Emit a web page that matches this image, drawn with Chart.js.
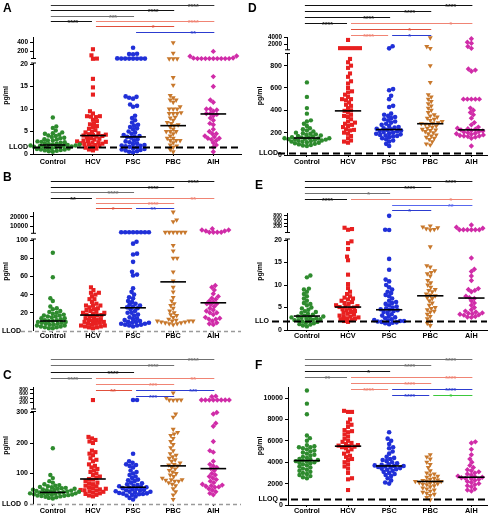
<!DOCTYPE html>
<html>
<head>
<meta charset="utf-8">
<script src="https://cdn.jsdelivr.net/npm/chart.js@4/dist/chart.umd.min.js"></script>
<style>
    html, body { margin: 0; padding: 0; background: #fff; }
    #wrap { position: relative; width: 491px; height: 515px; overflow: hidden; }
    #wrap canvas { position: absolute; }
</style>
</head>
<body>
<div id="wrap"></div>
<script>
var CATEGORIES = ["Control", "HCV", "PSC", "PBC", "AIH"];

// ---- panel A ----
var A_CONTROL = [8.1, 6.1, 5.8, 5.2, 4.8, 4.6, 4.5, 4.3, 4.1, 4.0, 3.8, 3.6, 3.5, 3.3, 3.2, 3.0, 3.0, 2.8, 2.7, 2.6, 2.5, 2.4, 2.3, 2.2, 2.1, 2.1, 2.0, 2.0, 1.9, 1.9, 1.8, 1.8, 1.7, 1.7, 1.6, 1.6, 1.5, 1.4, 1.3, 1.2, 1.1, 1.0, 1.0, 0.9, 0.8, 0.7, 0.6, 0.5];
var A_HCV = [245, 105, 30, 25, 16.7, 14.8, 13.2, 9.5, 9.0, 8.4, 8.4, 8.3, 8.2, 7.6, 7.3, 6.8, 6.6, 6.2, 6.0, 5.6, 5.3, 5.0, 4.8, 4.6, 4.4, 4.3, 4.2, 4.1, 4.0, 3.9, 3.7, 3.5, 3.4, 3.2, 3.0, 2.9, 2.8, 2.7, 2.6, 2.5, 2.4, 2.3, 2.2, 2.1, 2.0, 1.8, 1.6, 1.4, 1.2, 1.0, 0.8];
var A_PSC = [280, 140, 135, 130, 35, 30, 30, 30, 30, 30, 30, 30, 12.8, 12.7, 12.5, 12.3, 11.0, 10.7, 10.5, 8.5, 8.0, 7.5, 7.0, 6.5, 6.3, 6.0, 5.7, 5.5, 5.0, 4.8, 4.5, 4.2, 4.0, 3.9, 3.8, 3.6, 3.3, 3.0, 2.8, 2.6, 2.4, 2.2, 2.0, 1.9, 1.8, 1.7, 1.6, 1.5, 1.3, 1.1, 1.0, 0.9, 0.8, 0.6, 0.5, 0.4];
var A_PBC = [395, 155, 25, 25, 25, 17.0, 15.3, 13.0, 12.5, 12.0, 12.0, 11.5, 10.5, 10.0, 10.0, 10.0, 9.2, 9.0, 9.0, 9.0, 8.2, 8.0, 7.5, 7.0, 6.8, 6.5, 6.3, 6.0, 5.5, 5.0, 5.0, 5.0, 4.5, 4.0, 3.5, 3.5, 3.0, 3.0, 3.0, 2.5, 2.0, 1.8, 1.5, 1.0, 0.5];
var A_AIH = [195, 90, 85, 45, 30, 30, 30, 30, 30, 30, 30, 30, 30, 40, 17.2, 15.0, 12.0, 11.5, 10.0, 10.0, 9.8, 9.5, 9.0, 9.0, 8.8, 8.5, 8.0, 7.5, 6.8, 6.5, 5.5, 5.0, 4.5, 4.5, 4.0, 3.8, 3.5, 3.5, 3.2, 3.0, 2.5, 2.0, 1.5, 0.5];
var A_MEDIANS = [2.0, 4.1, 3.8, 6.3, 8.9];
var A_LOW_TICKS = [0, 5, 10, 15, 20];
var A_HIGH_TICKS = [200, 400];
var A_LLOD = 1.6;
var A_SIG = [[0, 4, "****", "dk", 0], [0, 3, "****", "k", 1], [0, 2, "***", "g", 2], [0, 1, "****", "k", 3], [1, 4, "****", "salmon", 3], [1, 3, "*", "red", 4], [2, 4, "**", "blue", 5]];

// ---- panel B ----
var B_CONTROL = [86, 59, 36, 33, 27, 25, 24, 22, 21, 20, 19, 18, 17, 17, 16, 16, 15, 14, 14, 13, 12, 12, 11, 11, 10, 10, 9, 9, 8, 8, 7, 7, 6, 6, 5, 5, 4, 4, 3, 3];
var B_HCV = [48, 45, 42, 42, 40, 38, 35, 35, 32, 30, 28, 28, 28, 26, 25, 24, 23, 22, 21, 20, 20, 19, 18, 17.5, 17, 16, 15, 14, 13, 12, 12, 11, 10, 10, 9, 8, 8, 7, 6, 6, 5, 5, 4, 4, 3];
var B_PSC = [3000, 3000, 3000, 3000, 3000, 3000, 3000, 3000, 98, 96, 85, 84, 76, 65, 62, 61, 47, 43, 40, 37, 36, 33, 32, 30, 29, 28, 27, 26, 25, 24, 22, 20, 20, 18, 17, 15, 14, 13, 12, 11, 10, 10, 9, 9, 8, 8, 7, 7, 6, 6, 5];
var B_PBC = [25500, 16700, 14800, 3000, 3000, 3000, 3000, 3000, 3000, 94, 88, 80, 80, 65, 55, 48, 43, 37, 33, 30, 28, 25, 22, 20, 18, 17, 15, 13, 12, 11, 11, 11, 11, 10, 10, 9, 9, 8, 8, 7];
var B_AIH = [7000, 5500, 4500, 3000, 3000, 3000, 3000, 4500, 5500, 50, 48, 45, 41, 38, 36, 35, 33, 32, 30, 30, 29, 27, 25, 23, 22, 20, 20, 18, 15, 14, 13, 13, 11, 9, 8, 7];
var B_MEDIANS = [11, 17.5, 25.5, 54, 31];
var B_LOW_TICKS = [20, 40, 60, 80, 100];
var B_HIGH_TICKS = [10000, 20000];
var B_LLOD = 0;
var B_SIG = [[0, 4, "****", "k", 0], [0, 3, "****", "k", 1], [0, 2, "****", "g", 2], [0, 1, "**", "k", 3], [1, 4, "**", "salmon", 3], [1, 3, "****", "salmon", 4], [1, 2, "*", "red", 5], [2, 3, "**", "blue", 5]];

// ---- panel C ----
var C_CONTROL = [183, 95, 85, 75, 70, 65, 62, 60, 58, 56, 55, 53, 52, 50, 50, 48, 47, 46, 45, 44, 43, 42, 41, 40, 40, 39, 38, 37, 36, 35, 35, 34, 33, 32, 31, 30, 29, 28, 27, 26, 25, 24, 22, 20, 18];
var C_HCV = [320, 220, 215, 210, 205, 200, 175, 170, 165, 160, 150, 145, 140, 130, 125, 120, 115, 110, 105, 100, 95, 90, 85, 82, 80, 75, 70, 68, 65, 60, 58, 55, 52, 50, 48, 46, 45, 44, 42, 40, 38, 35, 33, 30, 28, 25];
var C_PSC = [320, 320, 165, 140, 135, 130, 128, 125, 120, 110, 105, 100, 95, 90, 85, 80, 78, 75, 70, 68, 65, 62, 60, 58, 56, 55, 54, 52, 50, 48, 46, 45, 44, 42, 40, 40, 38, 36, 35, 34, 33, 32, 30, 28, 25, 20, 15];
var C_PBC = [650, 420, 330, 320, 320, 315, 295, 285, 245, 235, 230, 225, 215, 205, 195, 185, 175, 165, 160, 155, 150, 145, 140, 135, 130, 128, 125, 120, 115, 110, 105, 100, 95, 90, 85, 80, 80, 78, 75, 75, 70, 65, 60, 50, 40, 30, 15];
var C_AIH = [500, 480, 320, 320, 320, 320, 320, 320, 320, 320, 300, 295, 265, 255, 205, 175, 170, 140, 130, 125, 120, 116, 110, 100, 95, 90, 85, 80, 75, 70, 65, 62, 60, 58, 56, 55, 50, 45, 40, 35, 30];
var C_MEDIANS = [38, 82, 55, 125, 116];
var C_LOW_TICKS = [0, 100, 200, 300];
var C_HIGH_TICKS = [200, 400, 600, 800];
var C_LLOD = 0;
var C_SIG = [[0, 4, "****", "g", 0], [0, 3, "****", "g", 1], [0, 2, "****", "k", 2], [0, 1, "****", "g", 3], [1, 4, "**", "salmon", 3], [1, 3, "***", "salmon", 4], [1, 2, "**", "red", 5], [2, 4, "***", "blue", 5], [2, 3, "***", "blue", 6]];

// ---- panel D ----
var D_CONTROL = [650, 520, 420, 370, 310, 300, 280, 260, 240, 230, 220, 210, 200, 195, 190, 185, 180, 175, 170, 165, 160, 158, 155, 150, 150, 148, 145, 142, 140, 138, 135, 130, 128, 125, 120, 118, 115, 110, 105, 100, 95, 90, 85, 80];
var D_HCV = [3250, 1000, 1000, 1000, 1000, 1000, 1000, 860, 830, 800, 780, 730, 700, 660, 640, 600, 570, 560, 540, 520, 500, 500, 490, 470, 450, 440, 420, 400, 395, 380, 360, 350, 340, 320, 300, 290, 280, 270, 260, 250, 230, 225, 220, 200, 190, 170, 150, 130, 120, 110];
var D_PSC = [1530, 950, 590, 580, 530, 500, 440, 430, 370, 360, 350, 340, 330, 320, 310, 300, 290, 280, 270, 260, 250, 245, 240, 235, 230, 225, 220, 215, 210, 205, 200, 195, 190, 185, 180, 175, 170, 165, 160, 150, 140, 130, 120, 100, 80];
var D_PBC = [3835, 1450, 950, 800, 650, 540, 520, 500, 480, 460, 440, 420, 400, 380, 360, 350, 340, 330, 320, 310, 300, 290, 285, 280, 275, 270, 260, 250, 240, 230, 225, 220, 210, 200, 190, 180, 170, 160, 150, 140, 120, 100, 90];
var D_AIH = [3560, 2630, 2360, 1450, 950, 770, 760, 750, 500, 500, 500, 500, 500, 420, 400, 380, 360, 330, 290, 270, 250, 240, 235, 230, 225, 220, 215, 210, 205, 200, 195, 190, 185, 180, 175, 170, 170, 165, 160, 150, 80];
var D_MEDIANS = [152, 395, 228, 280, 225];
var D_LOW_TICKS = [0, 200, 400, 600, 800];
var D_HIGH_TICKS = [2000, 4000];
var D_LLOD = 22;
var D_SIG = [[0, 4, "****", "k", 0], [0, 3, "****", "k", 1], [0, 2, "****", "k", 2], [0, 1, "****", "k", 3], [1, 4, "*", "salmon", 3], [1, 3, "*", "red", 4], [1, 2, "****", "salmon", 5], [2, 3, "*", "blue", 5]];

// ---- panel E ----
var E_CONTROL = [12.1, 11.7, 9.2, 9.0, 8.5, 8.0, 7.5, 7.0, 6.5, 6.0, 5.8, 5.5, 5.0, 4.8, 4.5, 4.2, 4.0, 3.8, 3.6, 3.4, 3.2, 3.0, 3.0, 2.9, 2.8, 2.7, 2.6, 2.5, 2.4, 2.3, 2.2, 2.1, 2.0, 1.9, 1.8, 1.6, 1.5, 1.3, 1.2, 1.0, 0.8];
var E_HCV = [150, 80, 40, 19.7, 19.3, 18.0, 16.3, 15.5, 12.3, 10.2, 9.3, 8.5, 8.0, 7.5, 7.2, 7.0, 6.8, 6.5, 6.2, 6.0, 5.8, 5.5, 5.3, 5.2, 5.1, 5.0, 4.8, 4.6, 4.4, 4.2, 4.0, 3.8, 3.6, 3.4, 3.2, 3.0, 2.9, 2.8, 2.6, 2.5, 2.4, 2.2, 2.0, 1.8];
var E_PSC = [800, 45, 30, 15.8, 13.4, 11.2, 10.8, 10.0, 9.5, 9.0, 8.5, 8.2, 7.8, 7.5, 7.0, 6.5, 6.2, 6.0, 5.8, 5.5, 5.2, 5.0, 4.8, 4.6, 4.5, 4.4, 4.2, 4.0, 3.8, 3.5, 3.2, 3.0, 2.8, 2.6, 2.4, 2.2, 2.1, 2.0, 2.0, 1.9, 1.8, 1.7, 1.6, 1.5, 1.3];
var E_PBC = [250, 200, 150, 100, 60, 40, 18.5, 14.3, 14.0, 13.2, 12.8, 12.5, 12.0, 11.0, 10.5, 10.0, 9.5, 9.0, 8.8, 8.5, 8.0, 7.8, 7.6, 7.2, 7.0, 6.5, 6.0, 5.5, 5.0, 4.8, 4.5, 4.2, 4.0, 3.5, 3.0, 2.5, 2.0, 1.5, 1.0];
var E_AIH = [300, 180, 120, 40, 40, 40, 40, 40, 40, 16.0, 13.5, 13.0, 12.0, 11.0, 9.2, 9.0, 8.8, 8.5, 7.5, 7.2, 7.0, 6.5, 6.0, 5.5, 5.0, 4.5, 4.2, 4.0, 3.8, 3.7, 3.6, 3.5, 3.4, 3.3, 3.0, 2.9, 2.8];
var E_MEDIANS = [3.1, 5.1, 4.5, 7.6, 7.1];
var E_LOW_TICKS = [0, 5, 10, 15, 20];
var E_HIGH_TICKS = [200, 400, 600, 800];
var E_LLOD = 2.0;
var E_SIG = [[0, 4, "****", "k", 0], [0, 3, "****", "k", 1], [0, 2, "*", "g", 2], [0, 1, "****", "k", 3], [1, 4, "*", "salmon", 3], [2, 4, "**", "lblue", 4], [2, 3, "*", "blue", 5]];

// ---- panel F ----
var F_CONTROL = [10700, 9470, 8480, 6500, 6250, 6000, 5600, 5500, 5400, 5400, 5300, 5200, 5100, 5000, 4900, 4800, 4700, 4600, 4500, 4400, 4300, 4250, 4200, 4150, 4100, 4050, 4000, 3950, 3900, 3800, 3700, 3600, 3500, 3400, 3300, 3200, 3100, 3000, 2900, 2800, 2700, 2600, 2500];
var F_HCV = [8800, 8700, 8700, 8000, 7700, 7500, 7300, 7000, 6900, 6800, 6600, 6400, 6200, 6000, 5900, 5800, 5700, 5600, 5550, 5500, 5450, 5400, 5300, 5200, 5000, 4800, 4600, 4500, 4300, 4200, 4000, 3800, 3600, 3400, 3000, 2500, 2400, 1400];
var F_PSC = [6800, 6200, 6000, 5700, 5400, 5300, 5000, 4800, 4500, 4400, 4300, 4200, 4100, 4000, 3900, 3800, 3750, 3700, 3650, 3650, 3600, 3550, 3500, 3450, 3400, 3350, 3300, 3200, 3100, 3000, 2900, 2800, 2700, 2500, 2300, 2100, 2000];
var F_PBC = [4700, 4500, 4300, 4000, 3800, 3500, 3200, 3000, 2900, 2800, 2700, 2600, 2500, 2400, 2350, 2300, 2250, 2200, 2200, 2150, 2100, 2050, 2000, 1950, 1900, 1800, 1700, 1600, 1500, 1400, 1300, 1200, 1100, 1000, 900, 700, 500];
var F_AIH = [5900, 5800, 5200, 4700, 4300, 4000, 3700, 3500, 3300, 3200, 3100, 3000, 2900, 2800, 2700, 2650, 2600, 2550, 2500, 2450, 2400, 2300, 2200, 2100, 2000, 1900, 1800, 1700, 1500, 1400, 1300];
var F_MEDIANS = [4150, 5500, 3650, 2200, 2600];
var F_LOW_TICKS = [0, 2000, 4000, 6000, 8000, 10000];
var F_HIGH_TICKS = [];
var F_LLOQ = 520;
var F_SIG = [[0, 4, "****", "g", 0], [0, 3, "****", "g", 1], [0, 2, "*", "k", 2], [0, 1, "**", "g", 3], [1, 4, "****", "salmon", 3], [1, 3, "****", "salmon", 4], [1, 2, "****", "salmon", 5], [2, 4, "****", "blue", 5], [2, 3, "****", "blue", 6], [3, 4, "*", "green", 6]];

// ---- styles ----
var FONT = '"Liberation Sans", Arial, sans-serif';
var GROUP_COLORS = ["#2e8b2e", "#e82020", "#2030d8", "#c8782c", "#d02ca8"];
var GROUP_MARKS = [
    { style: "circle", r: 2.2, rot: 0 },
    { style: "rect", r: 2.9, rot: 0 },
    { style: "circle", r: 2.3, rot: 0 },
    { style: "triangle", r: 2.9, rot: 180 },
    { style: "rectRot", r: 2.7, rot: 0 }
];
var SIG_COLORS = { k: "#111111", dk: "#333333", g: "#707070", salmon: "#f08474", red: "#e0503c", blue: "#2c3cd0", lblue: "#5868ee", green: "#3cc83c" };
var SWARM_GAP = 3.7;

var LEFT_X = { axisX: 33, xEnd: 243, xMin: -0.494, xMax: 4.69 };
var RIGHT_X = { axisX: 287, xEnd: 488, xMin: -0.484, xMax: 4.38 };

var PANELS = [
    { id: "A", left: 0, top: 0, w: 245, h: 170, x: LEFT_X, plotTop: 37, zeroY: 154,
      groups: [A_CONTROL, A_HCV, A_PSC, A_PBC, A_AIH], medians: A_MEDIANS, lowTicks: A_LOW_TICKS, highTicks: A_HIGH_TICKS,
      lowPx: 4.5, lowMax: 20, highA: 94.1, highB: 0.0435, highStart: 95.5, highFont: 6.5,
      llod: A_LLOD, llodText: "LLOD", llodGray: false, llodLabelOff: -5, llodLineOff: 0,
      sig: A_SIG, barTop: 4.7, barGap: 5.4, titlePad: 2, xPad: 1.4, letterX: 3, letterY: 12 },
    { id: "B", left: 0, top: 170, w: 245, h: 170, x: LEFT_X, plotTop: 212, zeroY: 331,
      groups: [B_CONTROL, B_HCV, B_PSC, B_PBC, B_AIH], medians: B_MEDIANS, lowTicks: B_LOW_TICKS, highTicks: B_HIGH_TICKS,
      lowPx: 0.91, lowMax: 100, highA: 96, highB: 0.0009, highStart: 97.7, highFont: 6.5,
      llod: B_LLOD, llodText: "LLOD", llodGray: true, llodLabelOff: -12, llodLineOff: -12,
      sig: B_SIG, barTop: 11.3, barGap: 5.4, titlePad: 2, xPad: -1.6, letterX: 3, letterY: 11 },
    { id: "C", left: 0, top: 340, w: 245, h: 175, x: LEFT_X, plotTop: 387, zeroY: 504,
      groups: [C_CONTROL, C_HCV, C_PSC, C_PBC, C_AIH], medians: C_MEDIANS, lowTicks: C_LOW_TICKS, highTicks: C_HIGH_TICKS,
      lowPx: 0.305, lowMax: 300, highA: 97, highB: 0.0217, highStart: 95, highFont: 5.2,
      llod: C_LLOD, llodText: "LLOD", llodGray: true, llodLabelOff: -12, llodLineOff: -3,
      sig: C_SIG, barTop: 19.3, barGap: 6.1, titlePad: 2, xPad: 0.4, letterX: 3, letterY: 39 },
    { id: "D", left: 245, top: 0, w: 246, h: 170, x: RIGHT_X, plotTop: 37, zeroY: 155,
      groups: [D_CONTROL, D_HCV, D_PSC, D_PBC, D_AIH], medians: D_MEDIANS, lowTicks: D_LOW_TICKS, highTicks: D_HIGH_TICKS,
      lowPx: 0.1117, lowMax: 900, highA: 103.2, highB: 0.00365, highStart: 105.2, highFont: 6.3,
      llod: D_LLOD, llodText: "LLOD", llodGray: false, llodLabelOff: -9, llodLineOff: -9,
      sig: D_SIG, barTop: 4.7, barGap: 6.1, titlePad: 11, xPad: 1.1, letterX: 3, letterY: 11.5 },
    { id: "E", left: 245, top: 170, w: 246, h: 170, x: RIGHT_X, plotTop: 213, zeroY: 330,
      groups: [E_CONTROL, E_HCV, E_PSC, E_PBC, E_AIH], medians: E_MEDIANS, lowTicks: E_LOW_TICKS, highTicks: E_HIGH_TICKS,
      lowPx: 4.5, lowMax: 20, highA: 99.5, highB: 0.0183, highStart: 97.5, highFont: 5.2,
      llod: E_LLOD, llodText: "LLO", llodGray: false, llodLabelOff: -18, llodLineOff: -15,
      sig: E_SIG, barTop: 11.3, barGap: 5.8, titlePad: 11, xPad: -0.6, letterX: 10, letterY: 18.5 },
    { id: "F", left: 245, top: 340, w: 246, h: 175, x: { axisX: 288, xEnd: 488, xMin: -0.46, xMax: 4.38 }, plotTop: 387, zeroY: 505,
      groups: [F_CONTROL, F_HCV, F_PSC, F_PBC, F_AIH], medians: F_MEDIANS, lowTicks: F_LOW_TICKS, highTicks: F_HIGH_TICKS,
      lowPx: 0.0107, lowMax: null, highA: 0, highB: 0, highStart: 0, highFont: 6,
      llod: F_LLOQ, llodText: "LLOQ", llodGray: false, llodLabelOff: -10, llodLineOff: -8,
      sig: F_SIG, barTop: 19.3, barGap: 6, titlePad: 11, xPad: -0.6, letterX: 10, letterY: 28.5 }
];

var PANEL_BY_ID = {};

// value -> height above the x axis, with a break between the two segments
function toH(p, v) {
    if (p.lowMax === null || v <= p.lowMax) return v * p.lowPx;
    return p.highA + p.highB * v;
}

class BrokenScale extends Chart.LinearScale {
    buildTicks() {
        var p = PANEL_BY_ID[this.chart.canvas.id];
        var low = p.lowTicks.map(function (v) { return { value: v }; });
        var high = p.highTicks.map(function (v) { return { value: v, upper: true }; });
        return low.concat(high);
    }
    getPixelForValue(v) {
        var p = PANEL_BY_ID[this.chart.canvas.id];
        if (v === null || v === undefined) return NaN;
        return super.getPixelForValue(toH(p, v));
    }
    getPixelForTick(i) {
        var t = this.ticks[i];
        if (!t) return null;
        var p = PANEL_BY_ID[this.chart.canvas.id];
        if (t.upper) return super.getPixelForValue(p.highA + p.highB * t.value);
        return this.getPixelForValue(t.value);
    }
}
BrokenScale.id = "broken";
BrokenScale.defaults = Chart.LinearScale.defaults;
Chart.register(BrokenScale);

// simple beeswarm: spread points sideways so they do not overlap
function swarm(hs, diam) {
    var order = hs.map(function (h, i) { return i; }).sort(function (a, b) { return hs[a] - hs[b]; });
    var placed = [];
    var xs = [];
    order.forEach(function (i, n) {
        var y = hs[i];
        var x = 0;
        for (var k = 0; k < 300; k++) {
            var cand = Math.ceil(k / 2) * 0.5 * ((k + n) % 2 ? 1 : -1);
            var ok = placed.every(function (q) {
                var dy = q[1] - y, dx = q[0] - cand;
                return dx * dx + dy * dy >= diam * diam;
            });
            if (ok) { x = cand; break; }
        }
        placed.push([x, y]);
        xs[i] = x;
    });
    return xs;
}

var decor = {
    id: "decor",
    afterDatasetsDraw: function (chart) {
        var p = PANEL_BY_ID[chart.canvas.id];
        var ctx = chart.ctx, ca = chart.chartArea, ys = chart.scales.y;
        var y = Math.round(ys.getPixelForValue(p.llod)) + 0.5;
        ctx.save();
        if (p.llodGray) {
            ctx.strokeStyle = "#9a9a9a"; ctx.lineWidth = 1.5; ctx.setLineDash([4, 3]);
        } else {
            ctx.strokeStyle = "#000"; ctx.lineWidth = 2; ctx.setLineDash([7, 4]);
        }
        ctx.beginPath();
        ctx.moveTo(ca.left + p.llodLineOff, y);
        ctx.lineTo(ca.right, y);
        ctx.stroke();
        ctx.setLineDash([]);
        ctx.fillStyle = "#000";
        ctx.font = "bold 7px " + FONT;
        ctx.textAlign = "right";
        ctx.textBaseline = "middle";
        ctx.fillText(p.llodText, ca.left + p.llodLabelOff, y);
        ctx.restore();
    },
    afterDraw: function (chart) {
        var p = PANEL_BY_ID[chart.canvas.id];
        var ctx = chart.ctx, ca = chart.chartArea, ys = chart.scales.y, xs = chart.scales.x;
        var ax = Math.round(ca.left) + 0.5;
        function hpx(h) { return ys.getPixelForDecimal(h / (ys.max - ys.min)); }
        ctx.save();
        // y axis (broken)
        ctx.strokeStyle = "#000";
        ctx.lineWidth = 1;
        ctx.beginPath();
        if (p.lowMax === null) {
            ctx.moveTo(ax, ca.bottom); ctx.lineTo(ax, ca.top);
        } else {
            var lowTop = ys.getPixelForValue(p.lowMax) - 1;
            var upBot = hpx(p.highStart);
            ctx.moveTo(ax, ca.bottom); ctx.lineTo(ax, lowTop);
            ctx.moveTo(ax - 2.5, lowTop); ctx.lineTo(ax + 2.5, lowTop);
            ctx.moveTo(ax - 2.5, upBot); ctx.lineTo(ax + 2.5, upBot);
            ctx.moveTo(ax, upBot); ctx.lineTo(ax, ca.top);
        }
        ctx.stroke();

        // significance bars
        ctx.font = "bold 7px " + FONT;
        ctx.textAlign = "center";
        ctx.textBaseline = "alphabetic";
        p.sig.forEach(function (s) {
            var i = s[0], j = s[1], lvl = s[4];
            var by = Math.round(p.barTop + lvl * p.barGap) + 0.5;
            var startsAtEnd = p.sig.some(function (o) { return o[4] === lvl && o[0] === j; });
            var x1 = xs.getPixelForValue(i) + (i === 0 ? -2 : 3);
            var x2 = xs.getPixelForValue(j) + (startsAtEnd ? -1 : 1);
            var col = SIG_COLORS[s[3]];
            ctx.strokeStyle = col;
            ctx.fillStyle = col;
            ctx.beginPath();
            ctx.moveTo(x1, by); ctx.lineTo(x2, by);
            ctx.stroke();
            var lx = (xs.getPixelForValue(j - 1) + xs.getPixelForValue(j)) / 2;
            ctx.fillText(s[2], lx, by + 3.4);
        });

        // panel letter
        ctx.fillStyle = "#000";
        ctx.font = "bold 12px " + FONT;
        ctx.textAlign = "left";
        ctx.fillText(p.id, p.letterX, p.letterY);
        ctx.restore();
    }
};

var wrap = document.getElementById("wrap");

PANELS.forEach(function (p) {
    var c = document.createElement("canvas");
    c.id = "panel" + p.id;
    c.width = p.w;
    c.height = p.h;
    c.style.left = p.left + "px";
    c.style.top = p.top + "px";
    c.style.width = p.w + "px";
    c.style.height = p.h + "px";
    wrap.appendChild(c);
    PANEL_BY_ID[c.id] = p;

    var kx = (p.x.xEnd - p.x.axisX) / (p.x.xMax - p.x.xMin);
    var datasets = p.groups.map(function (vals, g) {
        var hs = vals.map(function (v) { return toH(p, v); });
        var off = swarm(hs, SWARM_GAP);
        var m = GROUP_MARKS[g];
        return {
            data: vals.map(function (v, i) { return { x: g + off[i] / kx, y: v }; }),
            pointStyle: m.style,
            pointRadius: m.r,
            pointRotation: m.rot,
            backgroundColor: GROUP_COLORS[g],
            pointBackgroundColor: GROUP_COLORS[g],
            borderWidth: 0,
            pointBorderWidth: 0,
            order: 2,
            clip: false
        };
    });
    p.medians.forEach(function (m, g) {
        datasets.push({
            data: [{ x: g - 0.32, y: m }, { x: g + 0.32, y: m }],
            showLine: true,
            borderColor: "#000",
            borderWidth: 1.6,
            pointRadius: 0,
            order: 1,
            clip: false
        });
    });

    new Chart(c, {
        type: "scatter",
        data: { datasets: datasets },
        options: {
            responsive: false,
            animation: false,
            events: [],
            layout: { padding: { top: p.plotTop - p.top, right: p.w - (p.x.xEnd - p.left), left: 0, bottom: 0 } },
            plugins: { legend: { display: false }, tooltip: { enabled: false } },
            scales: {
                x: {
                    type: "linear",
                    min: p.x.xMin,
                    max: p.x.xMax,
                    afterBuildTicks: function (s) { s.ticks = CATEGORIES.map(function (name, i) { return { value: i }; }); },
                    afterFit: function (s) { s.height = p.h - (p.zeroY - p.top); },
                    ticks: {
                        autoSkip: false, maxRotation: 0, padding: p.xPad, color: "#000",
                        font: { family: FONT, size: 7.3, weight: "bold" },
                        callback: function (v) { return CATEGORIES[v]; }
                    },
                    grid: { drawOnChartArea: false, drawTicks: true, tickLength: 2, color: "#000" },
                    border: { display: !p.llodGray, color: "#000", width: 1 }
                },
                y: {
                    type: "broken",
                    min: 0,
                    max: p.zeroY - p.plotTop,
                    afterFit: function (s) { s.width = p.x.axisX - p.left; },
                    ticks: {
                        autoSkip: false, padding: 2, color: "#000",
                        font: function (cx) {
                            var up = cx.tick && cx.tick.upper;
                            return { family: FONT, size: up ? p.highFont : 7, weight: "bold" };
                        },
                        callback: function (v) { return String(v); }
                    },
                    grid: { drawOnChartArea: false, drawTicks: true, tickLength: 3, color: "#000" },
                    border: { display: false },
                    title: {
                        display: true, text: "pg/ml", color: "#000",
                        font: { family: FONT, size: 7, weight: "bold" },
                        padding: { top: p.titlePad, bottom: 0 }
                    }
                }
            }
        },
        plugins: [decor]
    });
});
</script>
</body>
</html>
